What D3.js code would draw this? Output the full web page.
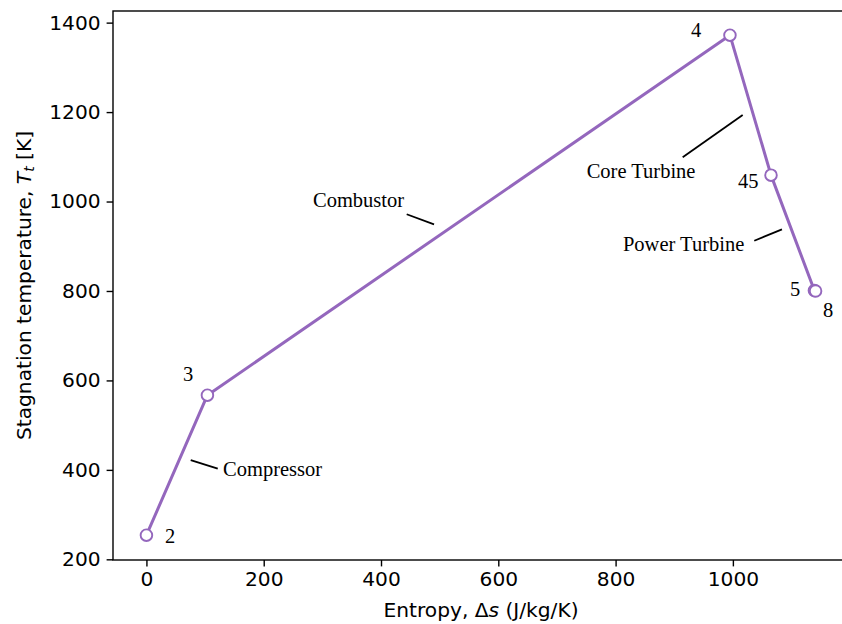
<!DOCTYPE html>
<html>
<head>
<meta charset="utf-8">
<script src="https://cdn.jsdelivr.net/npm/d3@7"></script>
<style>
  body { margin: 0; background: #fff; }
  svg { display: block; }
</style>
</head>
<body>
<svg id="chart" width="842" height="624"></svg>
<script>
// cycle stations
const stations = ["2", "3", "4", "45", "5", "8"];
const entropy = [0, 104, 995, 1065, 1139, 1141];
const temperature = [254, 567, 1372, 1059, 801, 800];

// station label anchors (data units)
const stationLabelX = [31.7, 62.4, 928.6, 1008.7, 1097.4, 1153.6];
const stationLabelY = [236.5, 598.7, 1368, 1030, 788.8, 741.8];

// component annotations (data units)
const components = ["Compressor", "Combustor", "Core Turbine", "Power Turbine"];
const compTextX = [130.6, 284, 750.7, 812.6];
const compTextY = [386, 987.8, 1052.6, 889.4];
const compLineX1 = [75.5, 443.8, 914.4, 1036.5];
const compLineY1 = [422, 971.5, 1098.9, 912.4];
const compLineX2 = [121.6, 490.4, 1016.7, 1083.7];
const compLineY2 = [402.6, 949, 1193.5, 937.9];

const xTicks = [0, 200, 400, 600, 800, 1000];
const yTicks = [200, 400, 600, 800, 1000, 1200, 1400];

const svg = d3.select("#chart");
const plotLeft = 113, plotRight = 849, plotTop = 11, plotBottom = 560;

const x = d3.scaleLinear().domain([-57, 1198]).range([plotLeft, plotRight]);
const y = d3.scaleLinear().domain([198.5, 1426]).range([plotBottom, plotTop]);

const purple = "#9467bd";
const sans = "DejaVu Sans, sans-serif";
const serif = "Liberation Serif, Times New Roman, serif";
const sansSize = "20.2px";

// axes
const xAxis = svg.append("g")
    .attr("transform", `translate(0,${plotBottom})`)
    .call(d3.axisBottom(x).tickValues(xTicks).tickSize(6.4).tickPadding(5).tickFormat(d3.format("d")));
const yAxis = svg.append("g")
    .attr("transform", `translate(${plotLeft},0)`)
    .call(d3.axisLeft(y).tickValues(yTicks).tickSize(6.4).tickPadding(6).tickFormat(d3.format("d")));

[xAxis, yAxis].forEach((g) => {
    g.select(".domain").remove();
    g.selectAll(".tick line").attr("stroke", "#000").attr("stroke-width", 1.4);
    g.selectAll(".tick text")
        .attr("fill", "#000")
        .style("font-family", sans)
        .style("font-size", sansSize);
});

// spines
svg.append("rect")
    .attr("x", plotLeft).attr("y", plotTop)
    .attr("width", plotRight - plotLeft).attr("height", plotBottom - plotTop)
    .attr("fill", "none")
    .attr("stroke", "#000")
    .attr("stroke-width", 1.4);

// axis labels
svg.append("text")
    .attr("x", (plotLeft + plotRight) / 2)
    .attr("y", 617)
    .attr("text-anchor", "middle")
    .style("font-family", sans)
    .style("font-size", sansSize)
    .html('Entropy, Δ<tspan font-style="italic">s</tspan> (J/kg/K)');

svg.append("text")
    .attr("transform", `translate(31,${(plotTop + plotBottom) / 2}) rotate(-90)`)
    .attr("text-anchor", "middle")
    .style("font-family", sans)
    .style("font-size", sansSize)
    .html('Stagnation temperature, <tspan font-style="italic">T</tspan><tspan font-style="italic" font-size="14px" dy="3">t</tspan><tspan dy="-3"> [K]</tspan>');

// cycle line
const pts = entropy.map((e, i) => [e, temperature[i]]);
svg.append("path")
    .datum(pts)
    .attr("fill", "none")
    .attr("stroke", purple)
    .attr("stroke-width", 3)
    .attr("stroke-linejoin", "round")
    .attr("d", d3.line().x((d) => x(d[0])).y((d) => y(d[1])));

svg.selectAll("circle.station")
    .data(pts)
    .join("circle")
    .attr("class", "station")
    .attr("cx", (d) => x(d[0]))
    .attr("cy", (d) => y(d[1]))
    .attr("r", 5.8)
    .attr("fill", "#fff")
    .attr("stroke", purple)
    .attr("stroke-width", 1.9);

// station numbers
svg.selectAll("text.station")
    .data(stations)
    .join("text")
    .attr("class", "station")
    .attr("x", (d, i) => x(stationLabelX[i]))
    .attr("y", (d, i) => y(stationLabelY[i]))
    .style("font-family", serif)
    .style("font-size", "20.5px")
    .text((d) => d);

// component annotations
components.forEach((c, i) => {
    svg.append("line")
        .attr("x1", x(compLineX1[i])).attr("y1", y(compLineY1[i]))
        .attr("x2", x(compLineX2[i])).attr("y2", y(compLineY2[i]))
        .attr("stroke", "#000")
        .attr("stroke-width", 1.8);
    svg.append("text")
        .attr("x", x(compTextX[i]))
        .attr("y", y(compTextY[i]))
        .style("font-family", serif)
        .style("font-size", "20.5px")
        .text(c);
});
</script>
</body>
</html>
